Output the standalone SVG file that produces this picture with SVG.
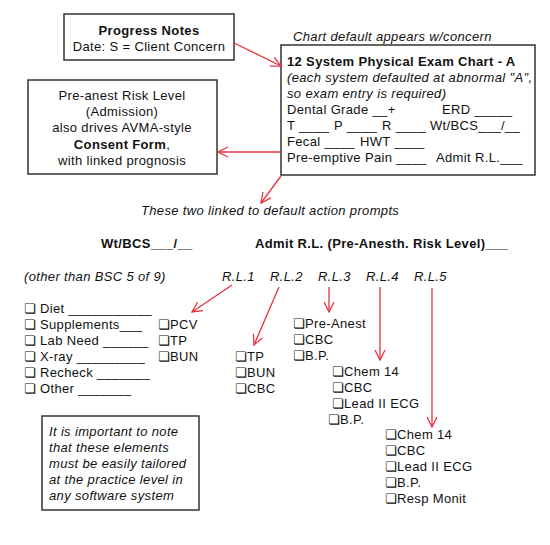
<svg xmlns="http://www.w3.org/2000/svg" width="550" height="545" viewBox="0 0 550 545">
<defs>
<marker id="ah" viewBox="0 0 12 12" refX="11" refY="6" markerWidth="12" markerHeight="12" markerUnits="userSpaceOnUse" orient="auto">
<path d="M1,1 L11,6 L1,11" fill="none" stroke="#e8333f" stroke-width="1.3"/>
</marker>
<style>
text{font-family:"Liberation Sans","DejaVu Sans",sans-serif;font-size:13px;fill:#111;letter-spacing:0.35px}
.b{font-weight:bold}
.i{font-style:italic}
.c{text-anchor:middle}
.box{fill:#fff;stroke:#333;stroke-width:1.5}
.ar{fill:none;stroke:#e8333f;stroke-width:1.3;marker-end:url(#ah)}
</style>
</defs>
<rect width="550" height="545" fill="#fff"/>

<g id="progress-notes">
<rect class="box" x="64" y="14" width="170" height="46"/>
<text class="b c" x="149" y="35">Progress Notes</text>
<text class="c" x="149" y="51">Date: S = Client Concern</text>
</g>

<g id="pre-anest">
<rect class="box" x="28" y="80" width="189" height="94"/>
<text class="c" x="122" y="100">Pre-anest Risk Level</text>
<text class="c" x="122" y="116">(Admission)</text>
<text class="c" x="122" y="132">also drives AVMA-style</text>
<text class="c" x="122" y="149"><tspan class="b">Consent Form</tspan>,</text>
<text class="c" x="122" y="165">with linked prognosis</text>
</g>

<g id="exam-chart">
<text class="i" x="293" y="41">Chart default appears w/concern</text>
<rect class="box" x="281" y="45" width="254" height="130"/>
<text class="b" x="287" y="66">12 System Physical Exam Chart - A</text>
<text class="i" x="287" y="82">(each system defaulted at abnormal "A",</text>
<text class="i" x="287" y="98">so exam entry is required)</text>
<text x="287" y="114">Dental Grade __+</text>
<text x="442" y="114">ERD _____</text>
<text x="287" y="130">T ____</text>
<text x="334" y="130">P ____</text>
<text x="382" y="130">R ____</text>
<text x="430" y="130">Wt/BCS___/__</text>
<text x="287" y="146">Fecal ____</text>
<text x="360" y="146">HWT ____</text>
<text x="287" y="162">Pre-emptive Pain ____</text>
<text x="436" y="162">Admit R.L.___</text>
</g>

<g id="linked-caption">
<text class="i" x="141" y="215">These two linked to default action prompts</text>
<text class="b" x="101" y="248">Wt/BCS___/__</text>
<text class="b" x="255" y="248">Admit R.L. (Pre-Anesth. Risk Level)___</text>
</g>

<g id="bcs-list">
<text class="i" x="24" y="281">(other than BSC 5 of 9)</text>
<text x="24" y="313">❏ Diet ___________</text>
<text x="24" y="329">❏ Supplements___</text>
<text x="24" y="345">❏ Lab Need ______</text>
<text x="24" y="361">❏ X-ray _________</text>
<text x="24" y="377">❏ Recheck _______</text>
<text x="24" y="393">❏ Other _______</text>
</g>

<g id="rl1">
<text class="i" x="222" y="281">R.L.1</text>
<text x="158" y="329">❏PCV</text>
<text x="158" y="345">❏TP</text>
<text x="158" y="361">❏BUN</text>
</g>
<g id="rl2">
<text class="i" x="270" y="281">R.L.2</text>
<text x="235" y="361">❏TP</text>
<text x="235" y="377">❏BUN</text>
<text x="235" y="393">❏CBC</text>
</g>
<g id="rl3">
<text class="i" x="318" y="281">R.L.3</text>
<text x="293" y="328">❏Pre-Anest</text>
<text x="293" y="344">❏CBC</text>
<text x="293" y="360">❏B.P.</text>
</g>
<g id="rl4">
<text class="i" x="366" y="281">R.L.4</text>
<text x="332" y="376">❏Chem 14</text>
<text x="332" y="392">❏CBC</text>
<text x="332" y="408">❏Lead II ECG</text>
<text x="328" y="424">❏B.P.</text>
</g>
<g id="rl5">
<text class="i" x="414" y="281">R.L.5</text>
<text x="385" y="439">❏Chem 14</text>
<text x="385" y="455">❏CBC</text>
<text x="385" y="471">❏Lead II ECG</text>
<text x="385" y="487">❏B.P.</text>
<text x="385" y="503">❏Resp Monit</text>
</g>

<g id="note">
<rect class="box" x="42" y="416" width="157" height="94"/>
<text class="i" x="49" y="436">It is important to note</text>
<text class="i" x="49" y="452">that these elements</text>
<text class="i" x="49" y="468">must be easily tailored</text>
<text class="i" x="49" y="484">at the practice level in</text>
<text class="i" x="49" y="500">any software system</text>
</g>

<g id="connectors">
<line class="ar" x1="234" y1="43" x2="281" y2="66"/>
<line class="ar" x1="281" y1="152" x2="218" y2="152"/>
<line class="ar" x1="281" y1="176" x2="261" y2="203"/>
<line class="ar" x1="232" y1="285" x2="192" y2="312"/>
<line class="ar" x1="279" y1="287" x2="254" y2="345"/>
<line class="ar" x1="329" y1="287" x2="329" y2="312"/>
<line class="ar" x1="380" y1="287" x2="380" y2="360"/>
<line class="ar" x1="432" y1="288" x2="432" y2="427"/>
</g>
</svg>
